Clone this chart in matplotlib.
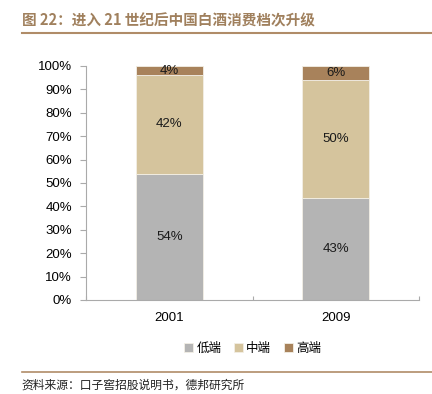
import numpy as np
import matplotlib
matplotlib.use('Agg')
import matplotlib.pyplot as plt
from matplotlib.ticker import FixedLocator, FuncFormatter

plt.rcParams['font.family'] = ['Liberation Sans', 'Noto Sans CJK SC', 'DejaVu Sans']

years = ['2001', '2009']
series = ['低端', '中端', '高端']
low = [54.0, 43.4]
mid = [42.0, 50.4]
high = [4.0, 6.2]
colors = ['#b4b4b4', '#d5c49d', '#a8825b']

title = '图 22：进入 21 世纪后中国白酒消费档次升级'
source = '资料来源：口子窖招股说明书，德邦研究所'

fig = plt.figure(figsize=(4.32, 3.94), dpi=100)
ax = fig.add_axes([0.199, 0.2386, 0.771, 0.594])

x = np.arange(len(years))
bottom = np.zeros(len(years))
for vals, name, c in zip([low, mid, high], series, colors):
    bars = ax.bar(x, vals, 0.4, bottom=bottom, color=c, edgecolor='#f3efe6',
                  linewidth=0.6, label=name)
    for xi, b, v in zip(x, bottom, vals):
        ax.text(xi, b + v / 2, '%.0f%%' % v, ha='center', va='center',
                fontsize=9.5, color='#1a1a1a')
    bottom = bottom + np.array(vals)

ax.set_xlim(-0.5, 1.5)
ax.set_ylim(0, 100)
ax.yaxis.set_major_locator(FixedLocator(np.arange(0, 101, 10)))
ax.yaxis.set_major_formatter(FuncFormatter(lambda v, p: '%d%%' % v))

ax.set_xticks([-0.5, 0.5, 1.5])
ax.set_xticklabels([])
ax.set_xticks(x, minor=True)
ax.set_xticklabels(years, minor=True)
ax.tick_params(axis='x', which='major', direction='in', length=3, color='#aaaaaa')
ax.tick_params(axis='x', which='minor', length=0, pad=9, labelsize=9.5)
ax.tick_params(axis='y', direction='out', length=4, color='#aaaaaa', labelsize=9.5, pad=6)

for s in ['top', 'right']:
    ax.spines[s].set_visible(False)
for s in ['left', 'bottom']:
    ax.spines[s].set_color('#aaaaaa')
    ax.spines[s].set_linewidth(0.8)

ax.legend(loc='upper center', bbox_to_anchor=(0.5, -0.13), ncol=3, frameon=False,
          fontsize=9, handlelength=0.7, handleheight=0.7, handletextpad=0.3,
          columnspacing=1.0, prop={'family': ['Noto Sans CJK SC'], 'size': 9})

fig.text(0.05, 0.948, title, fontsize=10.5, color='#a0805d', fontweight='bold',
         family=['Noto Sans CJK SC', 'DejaVu Sans'], va='center')
fig.add_artist(plt.Line2D([0.05, 1.0], [0.915, 0.915], color='#b08c68', linewidth=1.5))
fig.add_artist(plt.Line2D([0.05, 1.0], [0.056, 0.056], color='#b08c68', linewidth=1.2))
fig.text(0.05, 0.022, source, fontsize=8.5, color='#222222',
         family=['Noto Sans CJK SC', 'DejaVu Sans'], va='center')

fig.savefig('out.png', dpi=100)
